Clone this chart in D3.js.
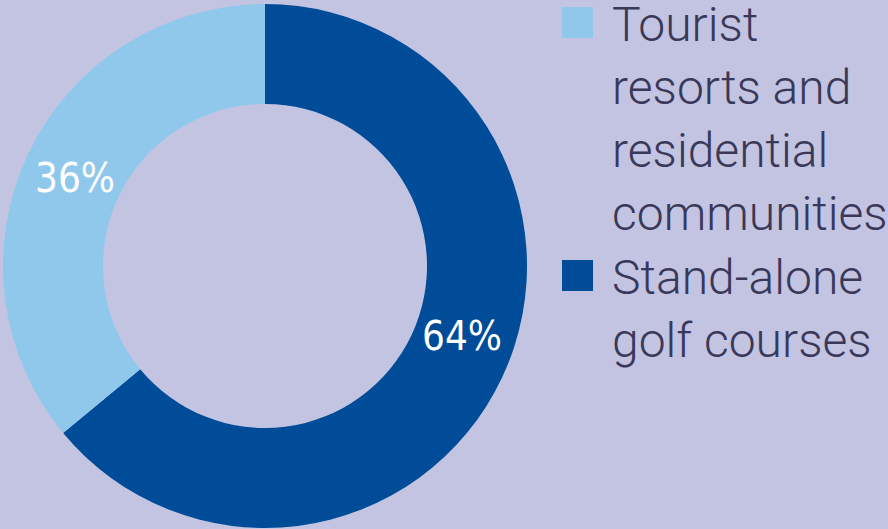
<!DOCTYPE html>
<html>
<head>
<meta charset="utf-8">
<script src="https://cdn.jsdelivr.net/npm/d3@7"></script>
<style>
  body { margin: 0; background: #c2c4e2; }
</style>
</head>
<body>
<script>
// Data
const categories = ["Stand-alone golf courses", "Tourist resorts and residential communities"];
const shares = [64, 36];
const colors = ["#004c98", "#90c8ec"];
const legendOrder = [1, 0];
const legendLines = [["Tourist", "resorts and", "residential", "communities"], ["Stand-alone", "golf courses"]];

const width = 888;
const height = 529;
const cx = 265, cy = 266;
const outerR = 262, innerR = 162;

const svg = d3.select("body").append("svg")
    .attr("viewBox", [0, 0, width, height])
    .attr("width", width)
    .attr("height", height);

svg.append("rect")
    .attr("width", width)
    .attr("height", height)
    .attr("fill", "#c2c4e2");

const pie = d3.pie().sort(null).value(d => d);
const arcs = pie(shares);
const arc = d3.arc().innerRadius(innerR).outerRadius(outerR);

const g = svg.append("g").attr("transform", `translate(${cx},${cy})`);

g.selectAll("path")
  .data(arcs)
  .join("path")
    .attr("fill", (d, i) => colors[i])
    .attr("d", arc);

// percentage labels
const labelPos = [[197, 70], [-190, -88]];
g.selectAll("text.pct")
  .data(arcs)
  .join("text")
    .attr("class", "pct")
    .attr("x", (d, i) => labelPos[i][0])
    .attr("y", (d, i) => labelPos[i][1])
    .attr("text-anchor", "middle")
    .attr("dominant-baseline", "central")
    .attr("fill", "#fff")
    .attr("font-family", "'Liberation Sans Narrow', 'DejaVu Sans Condensed', sans-serif")
    .attr("font-size", 40)
    .text(d => d.data + "%");

// legend
const legendY = [7, 260];
const legend = svg.append("g")
  .selectAll("g")
  .data(legendOrder)
  .join("g")
    .attr("transform", (d, i) => `translate(562,${legendY[i]})`);

legend.append("rect")
    .attr("width", 31)
    .attr("height", 31)
    .attr("fill", d => colors[d]);

legend.each(function(d, i) {
  const t = d3.select(this).append("text")
      .attr("font-family", "Roboto, sans-serif")
      .attr("font-weight", 300)
      .attr("font-size", 48)
      .attr("fill", "#3a3858");
  legendLines[i].forEach((line, j) => {
    t.append("tspan")
      .attr("x", 50)
      .attr("y", 34 + j * 63)
      .text(line);
  });
});
</script>
</body>
</html>
